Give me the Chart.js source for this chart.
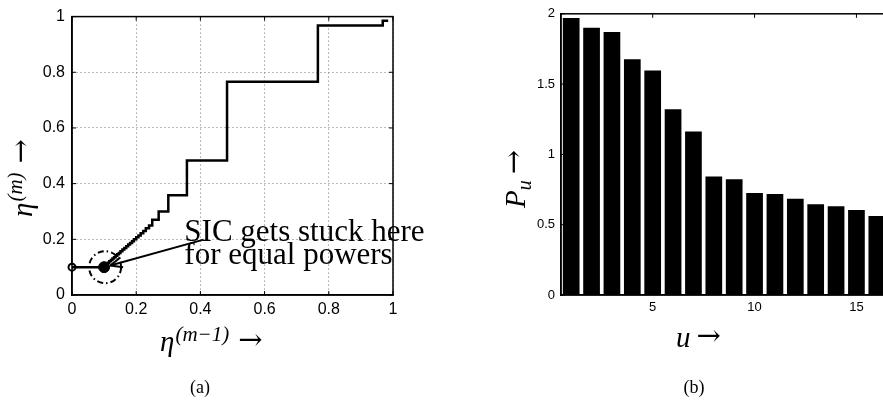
<!DOCTYPE html>
<html>
<head>
<meta charset="utf-8">
<script src="https://cdn.jsdelivr.net/npm/chart.js@4.4.0/dist/chart.umd.min.js"></script>
<style>
    html, body { margin: 0; padding: 0; background: #fff; overflow: hidden; width: 883px; height: 403px; }
    #khungA { position: absolute; left: 0; top: 0; }
    #khungB { position: absolute; left: 440px; top: 0; }
    .cap { position: absolute; top: 377px; width: 40px; text-align: center; font: 18px "Liberation Serif", serif; color: #000; }
</style>
</head>
<body>
<canvas id="khungA" width="450" height="403"></canvas>
<canvas id="khungB" width="460" height="403"></canvas>
<div class="cap" style="left:180px">(a)</div>
<div class="cap" style="left:674px">(b)</div>

<script>
// (a) eta sequence of the SIC iteration
var eta = [0, 0.1, 0.104, 0.108, 0.112, 0.116, 0.121, 0.126, 0.131, 0.136, 0.141, 0.146,
    0.151, 0.157, 0.163, 0.169, 0.175, 0.181, 0.187, 0.193, 0.2, 0.207, 0.214, 0.222,
    0.23, 0.24, 0.25, 0.27, 0.3, 0.358, 0.483, 0.766, 0.968, 0.985];
var ticksA = [0, 0.2, 0.4, 0.6, 0.8, 1];
var startPoint = [0, 0.1];
var stuckPoint = [0.1, 0.1];
var arrowFrom = [0.41, 0.199];
var arrowTo = [0.119, 0.106];
var notePos = [0.35, 0.195];
var noteLines = ['SIC gets stuck here', 'for equal powers'];

// (b) power per user
var users = [1, 2, 3, 4, 5, 6, 7, 8, 9, 10, 11, 12, 13, 14, 15, 16];
var power = [1.97, 1.90, 1.87, 1.677, 1.597, 1.321, 1.162, 0.843, 0.824, 0.726, 0.719, 0.684, 0.646, 0.632, 0.604, 0.562];
var xTicksB = [5, 10, 15];
var yTicksB = [0, 0.5, 1, 1.5, 2];

var tickFont = 'Liberation Sans';
var mathFont = '"Liberation Serif", serif';
var arrowFont = '"DejaVu Serif", serif';

// staircase points (eta_k, eta_k) -> (eta_k, eta_k+1)
var staircase = [{ x: eta[0], y: eta[1] }];
for (var k = 1; k < eta.length; k++) {
    staircase.push({ x: eta[k], y: eta[k] });
    if (k + 1 < eta.length) staircase.push({ x: eta[k], y: eta[k + 1] });
}

function line(ctx, x1, y1, x2, y2) {
    ctx.beginPath();
    ctx.moveTo(x1, y1);
    ctx.lineTo(x2, y2);
    ctx.stroke();
}

// text with super/subscripts, optionally rotated
function mathLabel(ctx, parts, x, y, rotate) {
    ctx.save();
    ctx.translate(x, y);
    if (rotate) ctx.rotate(-Math.PI / 2);
    ctx.fillStyle = '#000';
    ctx.textAlign = 'left';
    ctx.textBaseline = 'alphabetic';
    var cx = 0;
    parts.forEach(function (p) {
        ctx.font = p.font;
        cx += p.gap || 0;
        ctx.fillText(p.text, cx, p.dy || 0);
        cx += ctx.measureText(p.text).width;
    });
    ctx.restore();
}

// box + inward ticks
function drawBox(chart, xVals, yVals, xPix) {
    var a = chart.chartArea, ctx = chart.ctx;
    var sx = chart.scales.x, sy = chart.scales.y;
    ctx.save();
    ctx.strokeStyle = '#000';
    ctx.lineWidth = 1.5;
    ctx.strokeRect(a.left, a.top, a.right - a.left, a.bottom - a.top);
    ctx.lineWidth = 1;
    xVals.forEach(function (v) {
        var px = xPix(sx, v);
        line(ctx, px, a.bottom, px, a.bottom - 4);
        line(ctx, px, a.top, px, a.top + 4);
    });
    yVals.forEach(function (v) {
        var py = sy.getPixelForValue(v);
        line(ctx, a.left, py, a.left + 4, py);
        line(ctx, a.right, py, a.right - 4, py);
    });
    ctx.restore();
}

var annotA = {
    id: 'annotA',
    afterDraw: function (chart) {
        var ctx = chart.ctx, a = chart.chartArea;
        var sx = chart.scales.x, sy = chart.scales.y;
        drawBox(chart, ticksA, ticksA, function (s, v) { return s.getPixelForValue(v); });

        // dash-dot circle round the stuck point
        ctx.save();
        ctx.strokeStyle = '#000';
        ctx.lineWidth = 2;
        ctx.setLineDash([6, 3, 1.5, 3]);
        ctx.beginPath();
        ctx.arc(sx.getPixelForValue(stuckPoint[0]) + 1, sy.getPixelForValue(stuckPoint[1]), 16, 0, Math.PI * 2);
        ctx.stroke();
        ctx.setLineDash([]);

        // arrow
        var x1 = sx.getPixelForValue(arrowFrom[0]), y1 = sy.getPixelForValue(arrowFrom[1]);
        var x2 = sx.getPixelForValue(arrowTo[0]), y2 = sy.getPixelForValue(arrowTo[1]);
        line(ctx, x1, y1, x2, y2);
        var ang = Math.atan2(y1 - y2, x1 - x2);
        [0.4, -0.4].forEach(function (d) {
            line(ctx, x2, y2, x2 + 13 * Math.cos(ang + d), y2 + 13 * Math.sin(ang + d));
        });

        // note text
        ctx.font = '31px ' + mathFont;
        ctx.fillStyle = '#000';
        ctx.textAlign = 'left';
        ctx.textBaseline = 'alphabetic';
        var tx = sx.getPixelForValue(notePos[0]), ty = sy.getPixelForValue(notePos[1]);
        noteLines.forEach(function (t, i) {
            ctx.fillText(t, tx, ty + i * 23);
        });
        ctx.restore();

        // axis titles
        mathLabel(ctx, [
            { text: 'η', font: 'italic 29px ' + mathFont },
            { text: '(m−1)', font: 'italic 21px ' + mathFont, dy: -10, gap: 1 },
            { text: '→', font: '29px ' + arrowFont, gap: 9, dy: -2 }
        ], a.left + 88, a.bottom + 56, false);
        mathLabel(ctx, [
            { text: 'η', font: 'italic 29px ' + mathFont },
            { text: '(m)', font: 'italic 21px ' + mathFont, dy: -10, gap: 1 },
            { text: '→', font: '29px ' + arrowFont, gap: 9, dy: -2 }
        ], 32, 217, true);
    }
};

var annotB = {
    id: 'annotB',
    afterDraw: function (chart) {
        var ctx = chart.ctx, a = chart.chartArea;
        drawBox(chart, xTicksB, yTicksB, function (s, v) { return s.getPixelForValue(users.indexOf(v)); });
        mathLabel(ctx, [
            { text: 'u', font: 'italic 29px ' + mathFont },
            { text: '→', font: '29px ' + arrowFont, gap: 6, dy: -2 }
        ], 676 - 440, a.bottom + 52, false);
        mathLabel(ctx, [
            { text: 'P', font: 'italic 29px ' + mathFont },
            { text: 'u', font: 'italic 20px ' + mathFont, dy: 6 },
            { text: '→', font: '29px ' + arrowFont, gap: 6, dy: -2 }
        ], 525 - 440, 208, true);
    }
};

function plainLabel(v) { return String(v); }

new Chart(document.getElementById('khungA'), {
    type: 'scatter',
    data: {
        datasets: [
            { data: staircase, showLine: true, borderColor: '#000', borderWidth: 2.5, pointRadius: 0, tension: 0, clip: false },
            { data: [{ x: startPoint[0], y: startPoint[1] }], pointRadius: 3.5, pointBackgroundColor: '#fff', pointBorderColor: '#000', pointBorderWidth: 2, clip: false },
            { data: [{ x: stuckPoint[0], y: stuckPoint[1] }], pointRadius: 5.5, pointBackgroundColor: '#000', pointBorderColor: '#000', pointBorderWidth: 1, clip: false }
        ]
    },
    options: {
        responsive: false,
        animation: false,
        layout: { padding: { top: 14, right: 57, left: 0, bottom: 0 } },
        plugins: { legend: { display: false }, tooltip: { enabled: false } },
        scales: {
            x: {
                type: 'linear', min: 0, max: 1,
                afterBuildTicks: function (s) { s.ticks = ticksA.map(function (v) { return { value: v }; }); },
                afterFit: function (s) { s.height = 108; },
                ticks: { color: '#000', font: { family: tickFont, size: 16 }, padding: 5, maxRotation: 0, callback: plainLabel },
                grid: { color: '#777', drawTicks: false, lineWidth: 1 },
                border: { color: '#000', width: 1.5, dash: [1, 3] }
            },
            y: {
                type: 'linear', min: 0, max: 1,
                afterBuildTicks: function (s) { s.ticks = ticksA.map(function (v) { return { value: v }; }); },
                afterFit: function (s) { s.width = 72; },
                ticks: { color: '#000', font: { family: tickFont, size: 16 }, padding: 7, callback: plainLabel },
                grid: { color: '#777', drawTicks: false, lineWidth: 1 },
                border: { color: '#000', width: 1.5, dash: [1, 3] }
            }
        }
    },
    plugins: [annotA]
});

new Chart(document.getElementById('khungB'), {
    type: 'bar',
    data: {
        labels: users,
        datasets: [{
            data: power,
            backgroundColor: '#000',
            borderColor: '#000',
            borderWidth: 0,
            barPercentage: 0.82,
            categoryPercentage: 1
        }]
    },
    options: {
        responsive: false,
        animation: false,
        layout: { padding: { top: 10, right: 13, left: 0, bottom: 0 } },
        plugins: { legend: { display: false }, tooltip: { enabled: false } },
        scales: {
            x: {
                afterFit: function (s) { s.height = 108; },
                ticks: {
                    autoSkip: false, maxRotation: 0, color: '#000',
                    font: { family: tickFont, size: 13 }, padding: 5,
                    callback: function (v, i) { return xTicksB.indexOf(users[i]) >= 0 ? String(users[i]) : ''; }
                },
                grid: { display: false, drawTicks: false },
                border: { color: '#000', width: 1.5 }
            },
            y: {
                min: 0, max: 2,
                afterBuildTicks: function (s) { s.ticks = yTicksB.map(function (v) { return { value: v }; }); },
                afterFit: function (s) { s.width = 121; },
                ticks: { color: '#000', font: { family: tickFont, size: 13 }, padding: 6, callback: plainLabel },
                grid: { display: false, drawTicks: false },
                border: { color: '#000', width: 1.5 }
            }
        }
    },
    plugins: [annotB]
});
</script>
</body>
</html>
